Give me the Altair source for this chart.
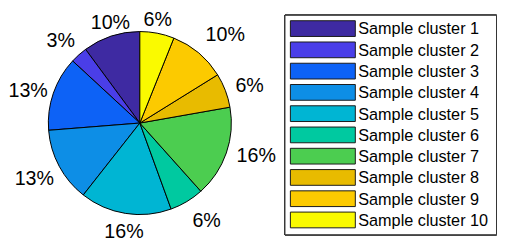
import altair as alt
import pandas as pd

clusters = [f"Sample cluster {i}" for i in range(1, 11)]
idx = list(range(1, 11))
values = [10, 3, 13, 13, 16, 6, 16, 6, 10, 6]
labels = ["10%", "3%", "13%", "13%", "16%", "6%", "16%", "6%", "10%", "6%"]
colors = ["#3e2aa2", "#4a3ee8", "#0d62f6", "#0d8ee6", "#00b5d3",
          "#00c9a0", "#4ccd50", "#e8bb00", "#fcca00", "#fafa00"]

df = pd.DataFrame({"cluster": clusters, "idx": idx, "value": values, "label": labels})
color_scale = alt.Scale(domain=clusters, range=colors)
FONT = "Liberation Sans"

CX, CY = 132, 115   # pie centre in the view
LX = 279            # left edge of the legend box in the view
base = alt.Chart(df)

arcs = base.mark_arc(outerRadius=93, stroke="black", strokeWidth=1).encode(
    x=alt.value(CX), y=alt.value(CY),
    theta=alt.Theta("value:Q", stack=True),
    color=alt.Color("cluster:N", scale=color_scale, legend=None),
    order=alt.Order("idx:Q", sort="descending"),
)

combos = [
    ("center", "bottom", 96), ("center", "top", 102),
    ("left", "bottom", 104), ("left", "middle", 104), ("left", "top", 104),
    ("right", "bottom", 99), ("right", "middle", 99), ("right", "top", 99),
]

texts = []
for h, v, r in combos:
    t = base.transform_window(
        cum="sum(value)", sort=[alt.SortField("idx", order="descending")], frame=[None, 0]
    ).transform_joinaggregate(total="sum(value)").transform_calculate(
        mid="datum.cum - datum.value / 2",
    ).transform_calculate(
        sx="sin(2 * PI * datum.mid / datum.total)",
        sy="-cos(2 * PI * datum.mid / datum.total)",
    ).transform_calculate(
        h="datum.sx > 0.4 ? 'left' : (datum.sx < -0.4 ? 'right' : 'center')",
        v="datum.sy > 0.4 ? 'top' : (datum.sy < -0.4 ? 'bottom' : 'middle')",
    ).transform_filter(
        f"datum.h == '{h}' && datum.v == '{v}'"
    ).mark_text(radius=r, align=h, baseline=v, fontSize=20, font=FONT, color="black").encode(
        x=alt.value(CX), y=alt.value(CY),
        theta=alt.Theta("mid:Q", stack=False),
        text="label:N",
    )
    texts.append(t)

leg_y = alt.Y("cluster:N", sort=clusters,
              scale=alt.Scale(type="point", range=[19, 213.5], padding=0), axis=None)
box = alt.Chart(df).mark_rect(fill="white", stroke="#333333", strokeWidth=1).encode(
    x=alt.value(LX + 0.5), x2=alt.value(LX + 215.5), y=alt.value(5.5), y2=alt.value(228.5),
)
swatches = alt.Chart(df).mark_point(
    shape="M-1,-0.2424L1,-0.2424L1,0.2424L-1,0.2424Z", size=4356, filled=True,
    stroke="#1a1a1a", strokeWidth=1, opacity=1,
).encode(
    x=alt.value(LX + 39), y=leg_y,
    fill=alt.Fill("cluster:N", scale=color_scale, legend=None),
)
leg_text = alt.Chart(df).mark_text(align="left", baseline="middle", fontSize=16.5, font=FONT, color="black", dy=1).encode(
    x=alt.value(LX + 75), y=leg_y, text="cluster:N",
)

chart = alt.layer(arcs, *texts, box, swatches, leg_text).properties(
    width=495, height=236, padding=0,
).configure_view(strokeWidth=0)

chart.save("out.html", embed_options={"renderer": "svg", "actions": False})
